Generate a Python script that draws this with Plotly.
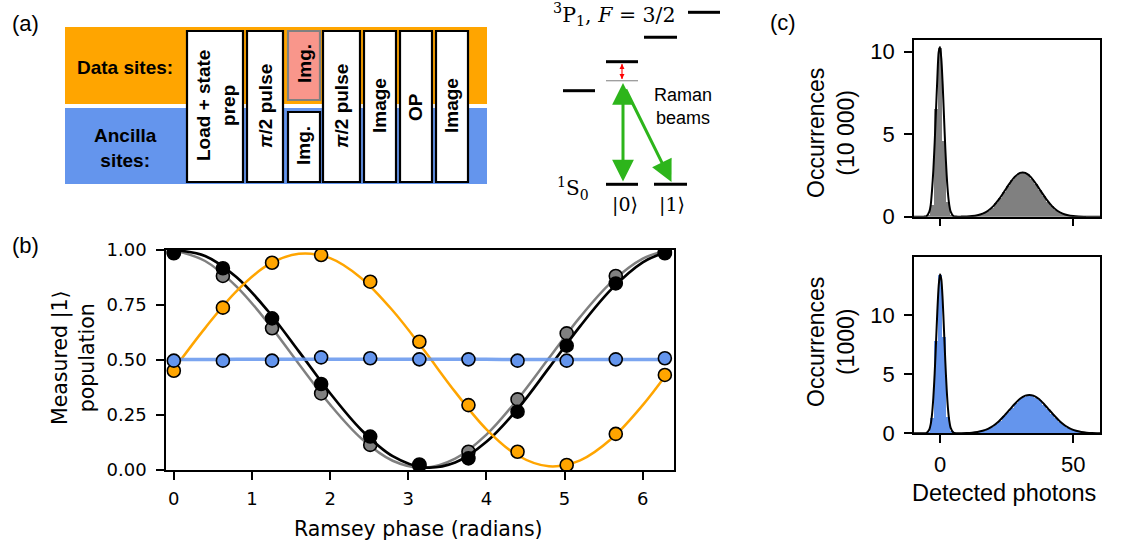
import plotly.graph_objects as go

W, H = 1122, 544

# ---------------- data: panel (b) ----------------
PHASE = [0.0, 0.628, 1.257, 1.885, 2.513, 3.142, 3.770, 4.398, 5.027, 5.655, 6.283]
GRAY_POP = [0.99, 0.882, 0.644, 0.348, 0.114, 0.02, 0.083, 0.321, 0.621, 0.882, 0.99]
BLACK_POP = [0.985, 0.917, 0.689, 0.391, 0.152, 0.025, 0.053, 0.265, 0.565, 0.848, 0.985]
ORANGE_POP = [0.451, 0.738, 0.942, 0.977, 0.856, 0.583, 0.295, 0.083, 0.023, 0.164, 0.432]
BLUE_POP = [0.497, 0.497, 0.497, 0.512, 0.508, 0.503, 0.503, 0.497, 0.497, 0.503, 0.508]

# fitted curves
FIT_PHASE = [0.0, 0.4, 0.8, 1.2, 1.6, 2.0, 2.4, 2.8, 3.2, 3.6, 4.0, 4.4, 4.8, 5.2, 5.6, 6.0, 6.3]
GRAY_FIT = [0.999, 0.950, 0.835, 0.671, 0.482, 0.297, 0.143, 0.042, 0.010, 0.052, 0.161, 0.322, 0.509, 0.696, 0.854, 0.961, 0.997]
BLACK_FIT = [0.999, 0.973, 0.877, 0.725, 0.539, 0.349, 0.182, 0.063, 0.012, 0.034, 0.128, 0.278, 0.464, 0.654, 0.822, 0.944, 0.991]
ORANGE_FIT = [0.458, 0.645, 0.812, 0.931, 0.983, 0.963, 0.872, 0.725, 0.545, 0.355, 0.185, 0.066, 0.017, 0.044, 0.142, 0.295, 0.433]
BLUE_FIT = [0.502, 0.502, 0.503, 0.503, 0.503, 0.503, 0.503, 0.503, 0.503, 0.503, 0.503, 0.502, 0.502, 0.502, 0.502, 0.502, 0.502]

# ---------------- data: panel (c) ----------------
BIN_CENTERS = [-6.0, -4.5, -3.0, -1.5, 0.0, 1.5, 3.0, 4.5, 6.0, 7.5, 9.0, 10.5, 12.0, 13.5, 15.0,
               16.5, 18.0, 19.5, 21.0, 22.5, 24.0, 25.5, 27.0, 28.5, 30.0, 31.5, 33.0, 34.5, 36.0,
               37.5, 39.0, 40.5, 42.0, 43.5, 45.0, 46.5, 48.0, 49.5, 51.0, 52.5, 54.0, 55.5, 57.0, 58.5]
DATA_COUNTS = [0.0, 0.05, 0.7, 6.5, 10.2, 4.6, 0.9, 0.12, 0.02, 0.01, 0.01, 0.02, 0.04, 0.07, 0.13,
               0.22, 0.37, 0.55, 0.83, 1.12, 1.52, 1.85, 2.24, 2.47, 2.66, 2.64, 2.58, 2.30, 2.01,
               1.61, 1.27, 0.90, 0.65, 0.41, 0.27, 0.15, 0.09, 0.05, 0.02, 0.01, 0.005, 0.0, 0.0, 0.0]
ANCILLA_COUNTS = [0.0, 0.1, 1.3, 7.8, 13.4, 8.2, 1.4, 0.2, 0.03, 0.01, 0.02, 0.03, 0.05, 0.08, 0.15,
                  0.24, 0.37, 0.56, 0.82, 1.10, 1.45, 1.86, 2.20, 2.62, 2.90, 3.10, 3.22, 3.25, 3.05,
                  2.85, 2.46, 2.12, 1.70, 1.35, 1.00, 0.72, 0.50, 0.33, 0.21, 0.13, 0.08, 0.04, 0.02, 0.01]

FIT_PHOTONS_DATA = [-10, -6, -5, -4, -3.5, -3, -2.5, -2, -1.5, -1, -0.5, 0, 0.5, 1, 1.5, 2, 2.5, 3, 3.5,
                    4, 5, 6, 8, 10, 12, 14, 16, 18, 20, 22, 24, 26, 28, 30, 31, 32, 34, 36, 38, 40,
                    42, 44, 46, 48, 50, 52, 55, 60]
FIT_DATA = [0.0, 0.005, 0.046, 0.31, 0.69, 1.58, 2.80, 4.48, 6.45, 8.37, 9.96, 10.28, 9.56, 8.01, 6.05,
            4.11, 2.52, 1.39, 0.69, 0.31, 0.046, 0.006, 0.005, 0.014, 0.038, 0.088, 0.187, 0.363,
            0.64, 1.03, 1.50, 1.99, 2.41, 2.65, 2.68, 2.65, 2.41, 1.99, 1.50, 1.03, 0.64, 0.363,
            0.187, 0.088, 0.038, 0.014, 0.003, 0.0]
FIT_PHOTONS_ANC = [-10, -6, -5, -4, -3.5, -3, -2.5, -2, -1.5, -1, -0.5, 0, 0.5, 1, 1.5, 2, 2.5, 3, 3.5,
                   4, 5, 6, 8, 10, 12, 14, 16, 18, 20, 22, 24, 26, 28, 30, 32, 33.5, 35, 37, 39, 41,
                   43, 45, 47, 49, 51, 53, 55, 57, 60]
FIT_ANC = [0.0, 0.003, 0.042, 0.32, 0.76, 1.59, 3.01, 5.07, 7.64, 10.32, 12.46, 13.47, 13.03, 11.28,
           8.73, 6.05, 3.75, 2.08, 1.03, 0.46, 0.065, 0.01, 0.010, 0.024, 0.053, 0.11, 0.21, 0.38,
           0.64, 1.00, 1.46, 1.97, 2.48, 2.92, 3.19, 3.25, 3.19, 2.92, 2.48, 1.97, 1.46, 1.00, 0.64,
           0.38, 0.21, 0.11, 0.053, 0.024, 0.006]

# ---------------- schematic (a) labels ----------------
SEQ_LABELS = ["Load + state<br>prep", "<i>π</i>/2 pulse", "Img.", "Img.", "<i>π</i>/2 pulse",
              "Image", "OP", "Image"]

# ---------------- colours ----------------
ORANGE = "#FFA500"
BLUE = "#6495ED"
GRAY = "#808080"
SALMON = "#F9968B"
GREEN = "#2DB51B"


def X(px):
    return px / W


def Y(py):
    return 1 - py / H


fig = go.Figure()

# ---- panel (b) traces ----
series = [
    (GRAY_FIT, GRAY_POP, GRAY, GRAY, 2.5),
    (BLACK_FIT, BLACK_POP, "black", "black", 2.7),
    (ORANGE_FIT, ORANGE_POP, ORANGE, ORANGE, 2.5),
    (BLUE_FIT, BLUE_POP, "rgba(100,149,237,0.85)", BLUE, 3.5),
]
for fit, pts, lcol, mcol, lw in series:
    fig.add_trace(go.Scatter(x=FIT_PHASE, y=fit, mode="lines",
                             line=dict(color=lcol, width=lw, shape="spline", smoothing=1.0),
                             xaxis="x", yaxis="y", hoverinfo="skip"))
    fig.add_trace(go.Scatter(x=PHASE, y=pts, mode="markers",
                             marker=dict(color=mcol, size=13, line=dict(color="black", width=1.6)),
                             xaxis="x", yaxis="y"))

# ---- panel (c) traces ----
fig.add_trace(go.Bar(x=BIN_CENTERS, y=DATA_COUNTS, width=1.5,
                     marker=dict(color=GRAY, line=dict(width=0)), xaxis="x2", yaxis="y2"))
fig.add_trace(go.Scatter(x=FIT_PHOTONS_DATA, y=FIT_DATA, mode="lines",
                         line=dict(color="black", width=2, shape="spline", smoothing=0.7),
                         xaxis="x2", yaxis="y2"))
fig.add_trace(go.Bar(x=BIN_CENTERS, y=ANCILLA_COUNTS, width=1.5,
                     marker=dict(color=BLUE, line=dict(width=0)), xaxis="x3", yaxis="y3"))
fig.add_trace(go.Scatter(x=FIT_PHOTONS_ANC, y=FIT_ANC, mode="lines",
                         line=dict(color="black", width=2, shape="spline", smoothing=0.7),
                         xaxis="x3", yaxis="y3"))

axis_common = dict(showline=True, mirror=True, linecolor="black", linewidth=1.5,
                   ticks="outside", ticklen=8, tickwidth=1.5, tickcolor="black",
                   showgrid=False, zeroline=False, automargin=False)
fontB = dict(family="DejaVu Sans", size=18, color="black")
fontC = dict(family="Liberation Sans, Arial", size=22, color="black")

fig.update_layout(
    width=W, height=H, autosize=False,
    margin=dict(l=0, r=0, t=0, b=0, pad=0),
    paper_bgcolor="white", plot_bgcolor="white",
    showlegend=False, bargap=0,
    xaxis=dict(domain=[X(166), X(674)], anchor="y", range=[-0.1, 6.4],
               tickvals=[0, 1, 2, 3, 4, 5, 6], tickfont=fontB, ticklabelstandoff=4, **axis_common),
    yaxis=dict(domain=[Y(470), Y(250)], anchor="x", range=[0, 1],
               tickvals=[0, 0.25, 0.5, 0.75, 1.0],
               ticktext=["0.00", "0.25", "0.50", "0.75", "1.00"],
               tickfont=fontB, ticklabelstandoff=6, **axis_common),
    xaxis2=dict(domain=[X(914), X(1100)], anchor="y2", range=[-9.75, 60],
                tickvals=[0, 50], showticklabels=False, **axis_common),
    yaxis2=dict(domain=[Y(216.7), Y(40)], anchor="x2", range=[0, 10.7],
                tickvals=[0, 5, 10], tickfont=fontC, ticklabelstandoff=5, **axis_common),
    xaxis3=dict(domain=[X(914), X(1100)], anchor="y3", range=[-9.75, 60],
                tickvals=[0, 50], tickfont=fontC, ticklabelstandoff=3, **axis_common),
    yaxis3=dict(domain=[Y(433.3), Y(256.7)], anchor="x3", range=[0, 14.95],
                tickvals=[0, 5, 10], tickfont=fontC, ticklabelstandoff=5, **axis_common),
)

shapes = []
annotations = []


def rect(x0, y0, x1, y1, fill, line_color=None, lw=0):
    shapes.append(dict(type="rect", xref="paper", yref="paper",
                       x0=X(x0), x1=X(x1), y0=Y(y1), y1=Y(y0),
                       fillcolor=fill,
                       line=dict(color=line_color or fill, width=lw)))


def hline(x0, x1, y, color="black", lw=3):
    shapes.append(dict(type="line", xref="paper", yref="paper",
                       x0=X(x0), x1=X(x1), y0=Y(y), y1=Y(y),
                       line=dict(color=color, width=lw)))


def vline(x, y0, y1, color="black", lw=1):
    shapes.append(dict(type="line", xref="paper", yref="paper",
                       x0=X(x), x1=X(x), y0=Y(y0), y1=Y(y1),
                       line=dict(color=color, width=lw)))


def text(x, y, s, size=19, family="Liberation Sans, Arial", angle=0, xanchor="center", color="black"):
    annotations.append(dict(x=X(x), y=Y(y), xref="paper", yref="paper", text=s,
                            showarrow=False, textangle=angle, xanchor=xanchor, yanchor="middle",
                            font=dict(family=family, size=size, color=color)))


def arrow(hx, hy, tx, ty, color, width, size, both=False, head=2):
    annotations.append(dict(x=X(hx), y=Y(hy), xref="paper", yref="paper",
                            ax=tx - hx, ay=ty - hy, text="", showarrow=True,
                            arrowhead=head, startarrowhead=head, arrowsize=size,
                            startarrowsize=size, arrowwidth=width, arrowcolor=color,
                            arrowside="end+start" if both else "end", standoff=0, startstandoff=0))


# ---- panel (a): sequence schematic ----
rect(65, 27, 487, 104, ORANGE)
rect(65, 108, 487, 184, BLUE)
boxes = [
    (187, 31, 243, 182, "white", "black", 216, 106),
    (247, 31, 283, 182, "white", "black", 266, 106),
    (288, 31, 320, 100, SALMON, GRAY, 304, 64),
    (288, 112, 320, 182, "white", "black", 304, 146),
    (323, 31, 360, 182, "white", "black", 342, 106),
    (364, 31, 396, 182, "white", "black", 380, 106),
    (400, 31, 432, 182, "white", "black", 416, 107),
    (436, 31, 468, 182, "white", "black", 452, 106),
]
for (x0, y0, x1, y1, fill, lc, tx, ty), lab in zip(boxes, SEQ_LABELS):
    rect(x0, y0, x1, y1, fill, lc, 2.2)
    text(tx, ty, "<b>" + lab + "</b>", size=19, angle=-90)

text(125, 67, "<b>Data sites:</b>", size=19)
text(125, 148, "<b>Ancilla<br>sites:</b>", size=19)

# ---- level diagram ----
hline(688, 720, 12.3)
hline(644, 677, 37.3)
hline(606, 638, 61.7)
hline(606, 638, 80.7, color="#9a9a9a", lw=1.3)
hline(563, 595, 90.7)
hline(606, 638, 184.3)
hline(654, 687, 184.3)

arrow(623, 83, 623, 183, GREEN, 3, 1.45, both=True)
arrow(671.5, 182, 625, 88, GREEN, 3, 1.45)
# small red detuning arrow: shaft plus two small heads
vline(622, 64, 79, color="red", lw=1.1)
arrow(622, 64, 622, 70, "red", 1.1, 0.9, head=2)
arrow(622, 79, 622, 73, "red", 1.1, 0.9, head=2)

serif = "DejaVu Serif, Liberation Serif, serif"
text(614, 14, "<sup>3</sup>P<sub>1</sub>, <i>F</i> = 3/2", size=20.5, family=serif)
text(573, 188, "<sup>1</sup>S<sub>0</sub>", size=20, family=serif)
text(625, 204, "|0⟩", size=19, family=serif)
text(672, 204, "|1⟩", size=19, family=serif)
text(683, 107, "Raman<br>beams", size=18)

# ---- panel labels & axis titles ----
text(25, 24, "(a)", size=22)
text(25, 245, "(b)", size=22)
text(783, 23, "(c)", size=22)

text(418, 529, "Ramsey phase (radians)", size=20.5, family="DejaVu Sans")
text(73, 358, "Measured |1⟩<br>population", size=20.5, family="DejaVu Sans", angle=-90)

text(831, 133, "Occurrences<br>(10 000)", size=23, angle=-90)
text(831, 342, "Occurrences<br>(1000)", size=23, angle=-90)
text(910, 493, "Detected photons", size=23.5, xanchor="left")

fig.update_layout(shapes=shapes, annotations=annotations)

fig.write_html("out.html")
